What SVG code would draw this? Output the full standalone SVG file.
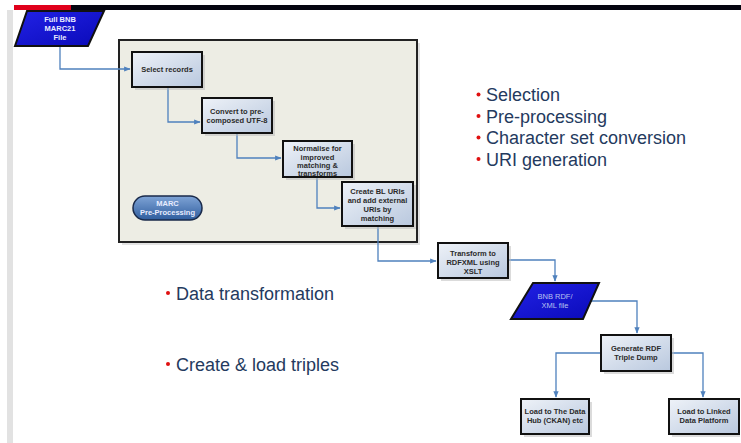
<svg xmlns="http://www.w3.org/2000/svg" width="741" height="443" viewBox="0 0 741 443">
<defs>
<linearGradient id="boxg" x1="0" y1="0" x2="1" y2="1">
<stop offset="0" stop-color="#eef2f8"/><stop offset="1" stop-color="#b9c8de"/>
</linearGradient>
<linearGradient id="parag" x1="0" y1="0" x2="1" y2="1">
<stop offset="0" stop-color="#2222e6"/><stop offset="1" stop-color="#0a0ab8"/>
</linearGradient>
<linearGradient id="pillg" x1="0" y1="0" x2="0" y2="1">
<stop offset="0" stop-color="#7fa4d6"/><stop offset="1" stop-color="#2f5d9e"/>
</linearGradient>
<marker id="arr" viewBox="0 0 10 10" refX="9" refY="5" markerWidth="5" markerHeight="5" orient="auto">
<path d="M0,1 L10,5 L0,9 z" fill="#4f81bd"/>
</marker>
</defs>
<style>
.box{fill:url(#boxg);stroke:#111;stroke-width:2}
.sh{fill:#b8b8b8;opacity:0.5}
.bt{font-family:"Liberation Sans",Arial,sans-serif;font-weight:bold;font-size:7.5px;fill:#2a2a2a;text-anchor:middle}
.wt{font-family:"Liberation Sans",Arial,sans-serif;font-weight:bold;font-size:7.5px;fill:#e8ecff;text-anchor:middle}
.bl{font-family:"Liberation Sans",Arial,sans-serif;font-size:18px;fill:#243a5e}
.dot{fill:#e01010}
.con{fill:none;stroke:#4f81bd;stroke-width:1.3;marker-end:url(#arr)}
.para{fill:url(#parag);stroke:#111;stroke-width:2}
</style>
<rect width="741" height="443" fill="#ffffff"/>
<rect x="7" y="10" width="6" height="433" fill="#e2e2e2"/>
<rect x="14" y="5" width="57" height="5" fill="#e0001b"/>
<rect x="71" y="5" width="670" height="5" fill="#050510"/>

<g id="container">
<rect x="122" y="43" width="298" height="202" fill="#c8c8c8" opacity="0.5"/>
<rect x="119" y="40" width="298" height="202" fill="#ededE4" stroke="#222" stroke-width="2"/>
</g>

<g id="connectors">
<path class="con" d="M60,46 V69 H130"/>
<path class="con" d="M168,87 V122 H200"/>
<path class="con" d="M237,133 V158 H281"/>
<path class="con" d="M317,177 V208 H340"/>
<path class="con" d="M378,226 V261 H436"/>
<path class="con" d="M508,260 H555 V281"/>
<path class="con" d="M591,301 H637 V333"/>
<path class="con" d="M601,353 H556 V397"/>
<path class="con" d="M671,353 H703 V397"/>
</g>

<g id="full-bnb">
<polygon class="para" points="27,11 104,11 88,46 15,46"/>
<text class="wt" x="60" y="22">Full BNB</text>
<text class="wt" x="60" y="31">MARC21</text>
<text class="wt" x="60" y="40">File</text>
</g>

<g id="select-records">
<rect class="sh" x="135" y="55" width="70" height="35"/>
<rect class="box" x="132" y="52" width="70" height="35"/>
<text class="bt" x="167" y="72">Select records</text>
</g>

<g id="convert">
<rect class="sh" x="205" y="101" width="70" height="35"/>
<rect class="box" x="202" y="98" width="70" height="35"/>
<text class="bt" x="237" y="114">Convert to pre-</text>
<text class="bt" x="237" y="123">composed UTF-8</text>
</g>

<g id="normalise">
<rect class="sh" x="286" y="144" width="69" height="36"/>
<rect class="box" x="283" y="141" width="69" height="36"/>
<text class="bt" x="317.5" y="151">Normalise for</text>
<text class="bt" x="317.5" y="159.5">improved</text>
<text class="bt" x="317.5" y="168">matching &amp;</text>
<text class="bt" x="317.5" y="176">transforms</text>
</g>

<g id="create-bl-uris">
<rect class="sh" x="345" y="185" width="71" height="44"/>
<rect class="box" x="342" y="182" width="71" height="44"/>
<text class="bt" x="377.5" y="194">Create BL URIs</text>
<text class="bt" x="377.5" y="203">and add external</text>
<text class="bt" x="377.5" y="212">URIs by</text>
<text class="bt" x="377.5" y="221">matching</text>
</g>

<g id="marc-pre-processing">
<rect x="133" y="196" width="69" height="24" rx="12" fill="url(#pillg)" stroke="#1a2a4a" stroke-width="1.5"/>
<text class="wt" x="167.5" y="206" fill="#dde6f5">MARC</text>
<text class="wt" x="167.5" y="215" fill="#dde6f5">Pre-Processing</text>
</g>

<g id="transform">
<rect class="sh" x="441" y="246" width="70" height="35"/>
<rect class="box" x="438" y="243" width="70" height="35"/>
<text class="bt" x="473" y="256">Transform to</text>
<text class="bt" x="473" y="265">RDFXML using</text>
<text class="bt" x="473" y="274">XSLT</text>
</g>

<g id="bnb-rdf-xml">
<polygon class="para" points="533,283 599,283 583,319 511,319"/>
<text class="wt" x="555" y="299" style="font-weight:normal;fill:#b8c0f0">BNB RDF/</text>
<text class="wt" x="555" y="308" style="font-weight:normal;fill:#b8c0f0">XML file</text>
</g>

<g id="generate-rdf">
<rect class="sh" x="604" y="338" width="70" height="36"/>
<rect class="box" x="601" y="335" width="70" height="36"/>
<text class="bt" x="636" y="351">Generate RDF</text>
<text class="bt" x="636" y="360">Triple Dump</text>
</g>

<g id="load-data-hub">
<rect class="sh" x="524" y="402" width="68" height="35"/>
<rect class="box" x="521" y="399" width="68" height="35"/>
<text class="bt" x="555" y="414">Load to The Data</text>
<text class="bt" x="555" y="423">Hub (CKAN) etc</text>
</g>

<g id="load-linked-data">
<rect class="sh" x="672" y="402" width="68" height="35"/>
<rect class="box" x="669" y="399" width="70" height="35"/>
<text class="bt" x="704" y="414">Load to Linked</text>
<text class="bt" x="704" y="423">Data Platform</text>
</g>

<g id="bullets">
<circle class="dot" cx="478.5" cy="94.5" r="2"/>
<text class="bl" x="486" y="101">Selection</text>
<circle class="dot" cx="478.5" cy="116" r="2"/>
<text class="bl" x="486" y="122.5">Pre-processing</text>
<circle class="dot" cx="478.5" cy="137.5" r="2"/>
<text class="bl" x="486" y="144">Character set conversion</text>
<circle class="dot" cx="478.5" cy="159" r="2"/>
<text class="bl" x="486" y="165.5">URI generation</text>
<circle class="dot" cx="168" cy="293" r="2"/>
<text class="bl" x="176" y="299.5">Data transformation</text>
<circle class="dot" cx="168" cy="364" r="2"/>
<text class="bl" x="176" y="370.5">Create &amp; load triples</text>
</g>
</svg>
